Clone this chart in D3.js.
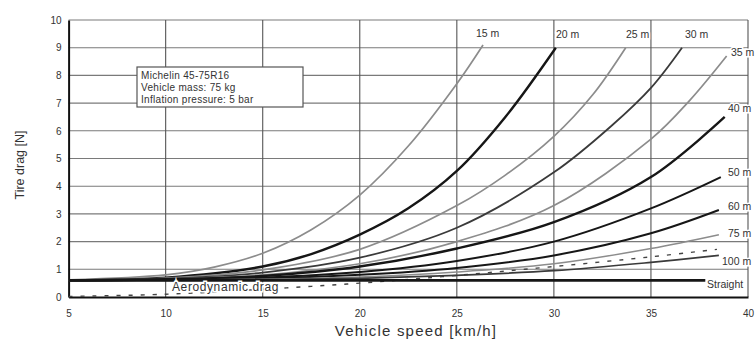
<!DOCTYPE html>
<html>
<head>
<meta charset="utf-8">
<script src="https://cdn.jsdelivr.net/npm/d3@7"></script>
<style>
  html, body { margin: 0; padding: 0; background: #fff; }
  svg { display: block; font-family: "Liberation Sans", Arial, sans-serif; }
</style>
</head>
<body>
<svg id="chart" width="756" height="344"></svg>
<script>
// Tick values
const speedTicks = [5, 10, 15, 20, 25, 30, 35, 40];
const dragTicks = [0, 1, 2, 3, 4, 5, 6, 7, 8, 9, 10];

// Tire drag [N] against vehicle speed [km/h] for each turn radius
const drag15  = [[5, 0.62], [10, 0.8], [12.5, 1.08], [15, 1.58], [17.5, 2.43], [20, 3.68], [22.5, 5.45], [25, 7.7], [26.35, 9.1]];
const drag20  = [[5, 0.61], [10, 0.7], [15, 1.1], [17.5, 1.55], [20, 2.25], [22.5, 3.2], [25, 4.55], [27.5, 6.5], [30.1, 9.0]];
const drag25  = [[5, 0.6], [10, 0.68], [15, 0.98], [20, 1.72], [25, 3.3], [27.5, 4.4], [30, 5.8], [32, 7.3], [33.7, 9.0]];
const drag30  = [[5, 0.6], [10, 0.66], [15, 0.88], [20, 1.42], [25, 2.5], [30, 4.5], [33, 6.2], [35, 7.55], [36.6, 9.0]];
const drag35  = [[5, 0.6], [10, 0.65], [15, 0.8], [20, 1.2], [25, 2.0], [30, 3.3], [35, 5.7], [37, 7.1], [38.9, 8.7]];
const drag40  = [[5, 0.6], [10, 0.64], [15, 0.76], [20, 1.1], [25, 1.75], [30, 2.7], [35, 4.33], [38.8, 6.5]];
const drag50  = [[5, 0.6], [10, 0.63], [15, 0.7], [20, 0.9], [25, 1.3], [30, 2.0], [35, 3.2], [38.6, 4.33]];
const drag60  = [[5, 0.6], [10, 0.62], [15, 0.67], [20, 0.8], [25, 1.05], [30, 1.5], [35, 2.3], [38.5, 3.14]];
const drag75  = [[5, 0.6], [10, 0.61], [15, 0.64], [20, 0.72], [25, 0.9], [30, 1.2], [35, 1.75], [38.5, 2.25]];
const drag100 = [[5, 0.6], [10, 0.6], [15, 0.62], [20, 0.67], [25, 0.78], [30, 0.95], [35, 1.25], [38.5, 1.5]];
const dragStraight = [[5, 0.6], [37.8, 0.6]];
const dragAero = [[5, 0.02], [10, 0.1], [15, 0.28], [20, 0.5], [25, 0.78], [30, 1.1], [35, 1.45], [38.4, 1.72]];

// Curve labels
const radiusLabels = ["15 m", "20 m", "25 m", "30 m", "35 m", "40 m", "50 m", "60 m", "75 m", "100 m", "Straight"];
const noteLines = ["Michelin 45-75R16", "Vehicle mass: 75 kg", "Inflation pressure: 5 bar"];

const GRAY = "#8c8c8c", DARK = "#3a3a3a", BLACK = "#161616";
const curves = [
  { data: drag15,  label: radiusLabels[0], color: GRAY,  width: 1.7, lx: 476, ly: 37 },
  { data: drag20,  label: radiusLabels[1], color: BLACK, width: 2.4, lx: 556, ly: 38 },
  { data: drag25,  label: radiusLabels[2], color: GRAY,  width: 1.7, lx: 626, ly: 38 },
  { data: drag30,  label: radiusLabels[3], color: DARK,  width: 1.8, lx: 685, ly: 38 },
  { data: drag35,  label: radiusLabels[4], color: GRAY,  width: 1.7, lx: 731, ly: 56 },
  { data: drag40,  label: radiusLabels[5], color: BLACK, width: 2.4, lx: 728, ly: 112 },
  { data: drag50,  label: radiusLabels[6], color: BLACK, width: 2.0, lx: 728, ly: 176 },
  { data: drag60,  label: radiusLabels[7], color: BLACK, width: 2.0, lx: 728, ly: 210 },
  { data: drag75,  label: radiusLabels[8], color: GRAY,  width: 1.5, lx: 728, ly: 237 },
  { data: drag100, label: radiusLabels[9], color: DARK,  width: 1.7, lx: 722, ly: 265 },
  { data: dragStraight, label: radiusLabels[10], color: BLACK, width: 2.6, lx: 707, ly: 288 }
];

const svg = d3.select("#chart");
const plotL = 68.6, plotR = 748, plotT = 20, plotB = 297;

const x = d3.scaleLinear().domain([5, 40]).range([plotL, plotR]);
const y = d3.scaleLinear().domain([0, 10]).range([plotB, plotT]);

// Grid
const grid = svg.append("g");
grid.selectAll("line.h").data(dragTicks.slice(1)).join("line")
  .attr("class", "h")
  .attr("x1", plotL).attr("x2", plotR)
  .attr("y1", d => y(d)).attr("y2", d => y(d))
  .attr("stroke", "#7a7a7a").attr("stroke-width", 1.1);
grid.selectAll("line.v").data(speedTicks.slice(1)).join("line")
  .attr("class", "v")
  .attr("x1", d => x(d)).attr("x2", d => x(d))
  .attr("y1", plotT).attr("y2", plotB)
  .attr("stroke", "#555").attr("stroke-width", 1.1);

// Axes
const xAxis = svg.append("g").attr("transform", `translate(0,${plotB})`)
  .call(d3.axisBottom(x).tickValues(speedTicks).tickSize(0).tickPadding(13));
const yAxis = svg.append("g").attr("transform", `translate(${plotL},0)`)
  .call(d3.axisLeft(y).tickValues(dragTicks).tickSize(0).tickPadding(7));
[xAxis, yAxis].forEach(a => {
  a.select(".domain").attr("stroke", "#111").attr("stroke-width", 2);
  a.selectAll("text").attr("font-size", 10).attr("fill", "#333")
    .attr("font-family", "Liberation Sans, Arial, sans-serif");
});

const line = d3.line().x(d => x(d[0])).y(d => y(d[1])).curve(d3.curveCatmullRom.alpha(0.5));

// Aerodynamic drag (dashed)
svg.append("path").datum(dragAero)
  .attr("d", line).attr("fill", "none")
  .attr("stroke", "#444").attr("stroke-width", 1.4)
  .attr("stroke-dasharray", "4,8");

// Tire drag curves
svg.append("g").selectAll("path").data(curves).join("path")
  .attr("d", d => line(d.data))
  .attr("fill", "none")
  .attr("stroke", d => d.color)
  .attr("stroke-width", d => d.width);

// Labels with white halo
svg.append("g").selectAll("text").data(curves).join("text")
  .attr("x", d => d.lx).attr("y", d => d.ly)
  .attr("font-size", 10.5).attr("fill", "#333")
  .attr("stroke", "#fff").attr("stroke-width", 3).attr("paint-order", "stroke")
  .text(d => d.label);

svg.append("text").attr("x", 172).attr("y", 291)
  .attr("font-size", 12).attr("letter-spacing", 0.6).attr("fill", "#333")
  .attr("stroke", "#fff").attr("stroke-width", 3).attr("paint-order", "stroke")
  .text("Aerodynamic drag");

// Tire / test conditions note
const note = svg.append("g");
note.append("rect").attr("x", 137).attr("y", 67).attr("width", 166).attr("height", 40)
  .attr("fill", "#fff").attr("stroke", "#555").attr("stroke-width", 1.2);
note.selectAll("text").data(noteLines).join("text")
  .attr("x", 141).attr("y", (d, i) => 79 + i * 12)
  .attr("font-size", 10).attr("letter-spacing", 0.3).attr("fill", "#333")
  .text(d => d);

// Axis titles
svg.append("text").attr("x", 416).attr("y", 336).attr("text-anchor", "middle")
  .attr("font-size", 15).attr("letter-spacing", 1.2).attr("fill", "#333")
  .text("Vehicle speed  [km/h]");
svg.append("text").attr("transform", "translate(24,165) rotate(-90)")
  .attr("text-anchor", "middle").attr("font-size", 12.5).attr("fill", "#333")
  .text("Tire drag [N]");
</script>
</body>
</html>
